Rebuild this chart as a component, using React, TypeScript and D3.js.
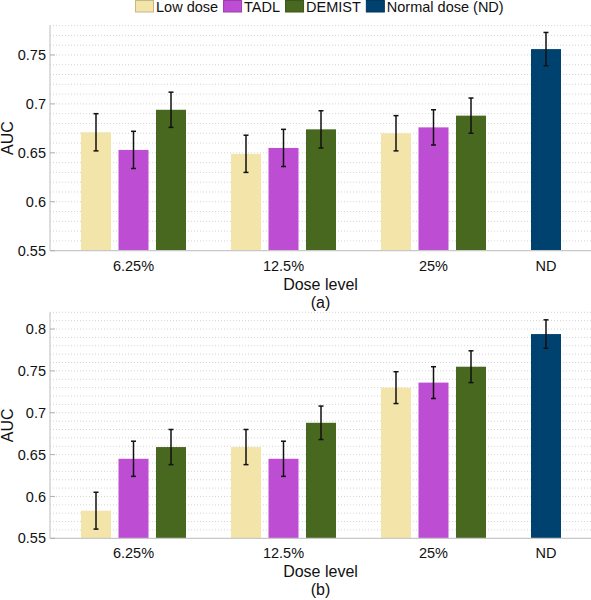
import React from "react";
import * as d3 from "d3";

// ---- data ----
const categories = ["6.25%", "12.5%", "25%"];
const ndCategory = "ND";
const seriesNames = ["Low dose", "TADL", "DEMIST", "Normal dose (ND)"];
const seriesColors = ["#F3E4A9", "#BD4DD3", "#48681F", "#00426F"];

// panel (a)
const lowDoseA = [0.671, 0.649, 0.670];
const tadlA = [0.653, 0.655, 0.676];
const demistA = [0.694, 0.674, 0.688];
const lowDoseErrA = [0.019, 0.019, 0.018];
const tadlErrA = [0.019, 0.019, 0.018];
const demistErrA = [0.018, 0.019, 0.018];
const ndA = 0.756;
const ndErrA = 0.017;
const ticksA = [0.55, 0.6, 0.65, 0.7, 0.75];

// panel (b)
const lowDoseB = [0.583, 0.659, 0.730];
const tadlB = [0.645, 0.645, 0.736];
const demistB = [0.659, 0.688, 0.755];
const lowDoseErrB = [0.022, 0.021, 0.019];
const tadlErrB = [0.021, 0.021, 0.019];
const demistErrB = [0.021, 0.020, 0.019];
const ndB = 0.794;
const ndErrB = 0.017;
const ticksB = [0.55, 0.6, 0.65, 0.7, 0.75, 0.8];

const FONT = "'Liberation Sans', Arial, Helvetica, sans-serif";
const W = 591;
const H = 600;
const LEFT = 50;
const RIGHT = 591;

const x = d3.scaleLinear().domain([0, 3]).range([133.5, 583.5]);
const slot = 0.25;
const barW = x(0.2) - x(0);

type PanelProps = {
  series: number[][];
  errs: number[][];
  nd: number;
  ndErr: number;
  domain: [number, number];
  range: [number, number];
  ticks: number[];
  tickY: number;
  xLabelY: number;
  subLabelY: number;
  subLabel: string;
};

function Panel(p: PanelProps) {
  const y = d3.scaleLinear().domain(p.domain).range(p.range);
  const minor = d3.range(Math.round(p.domain[0] * 100) + 1, Math.round(p.domain[1] * 100) + 1).map((v) => v / 100);
  const bars: { cx: number; v: number; e: number; c: string }[] = [];
  categories.forEach((_, g) => {
    p.series.forEach((s, k) => {
      bars.push({ cx: x(g + (k - 1) * slot), v: s[g], e: p.errs[k][g], c: seriesColors[k] });
    });
  });
  const ndX = x(3 - slot);
  bars.push({ cx: ndX, v: p.nd, e: p.ndErr, c: seriesColors[3] });
  const midY = (p.range[0] + p.range[1]) / 2;
  const midX = (LEFT + RIGHT) / 2;
  return (
    <g>
      {minor.map((m) => (
        <line key={m} x1={LEFT} x2={RIGHT} y1={y(m)} y2={y(m)} stroke="#d4d4d4" strokeWidth={1} strokeDasharray="1,2" />
      ))}
      {bars.map((b, i) => (
        <rect key={i} x={b.cx - barW / 2} y={y(b.v)} width={barW} height={y(p.domain[0]) - y(b.v)} fill={b.c} />
      ))}
      {bars.map((b, i) => (
        <g key={"e" + i} stroke="#111" strokeWidth={1.5}>
          <line x1={b.cx} x2={b.cx} y1={y(b.v + b.e)} y2={y(b.v - b.e)} />
          <line x1={b.cx - 2.5} x2={b.cx + 2.5} y1={y(b.v + b.e)} y2={y(b.v + b.e)} />
          <line x1={b.cx - 2.5} x2={b.cx + 2.5} y1={y(b.v - b.e)} y2={y(b.v - b.e)} />
        </g>
      ))}
      <line x1={LEFT} x2={LEFT} y1={p.range[1]} y2={p.range[0]} stroke="#c8c8c8" strokeWidth={1.2} />
      <line x1={LEFT} x2={RIGHT} y1={p.range[0]} y2={p.range[0]} stroke="#c8c8c8" strokeWidth={1.2} />
      {p.ticks.map((t) => (
        <g key={t}>
          <line x1={LEFT} x2={LEFT + 5} y1={y(t)} y2={y(t)} stroke="#b0b0b0" strokeWidth={1} />
          <text x={46} y={y(t)} dy="0.35em" textAnchor="end" fontSize={14.5} fontFamily={FONT} fill="#111">
            {String(t)}
          </text>
        </g>
      ))}
      {categories.map((c, g) => (
        <text key={c} x={x(g)} y={p.tickY} textAnchor="middle" fontSize={14.5} fontFamily={FONT} fill="#111">
          {c}
        </text>
      ))}
      <text x={ndX} y={p.tickY} textAnchor="middle" fontSize={14.5} fontFamily={FONT} fill="#111">
        {ndCategory}
      </text>
      <text x={midX} y={p.xLabelY} textAnchor="middle" fontSize={16} fontFamily={FONT} fill="#111">
        Dose level
      </text>
      <text x={midX} y={p.subLabelY} textAnchor="middle" fontSize={16} fontFamily={FONT} fill="#111">
        {p.subLabel}
      </text>
      <text transform={`translate(13,${midY}) rotate(-90)`} textAnchor="middle" fontSize={16} fontFamily={FONT} fill="#111">
        AUC
      </text>
    </g>
  );
}

function measure(s: string, size: number): number {
  const cv = document.createElement("canvas");
  const ctx = cv.getContext("2d");
  if (!ctx) return s.length * size * 0.55;
  ctx.font = `${size}px 'Liberation Sans', Arial, sans-serif`;
  return ctx.measureText(s).width;
}

function Legend() {
  let cx = 135;
  const items = seriesNames.map((n, i) => {
    const bx = cx;
    const tw = measure(n, 14.5);
    cx = bx + 19 + 2 + tw + 5;
    return { n, bx, c: seriesColors[i] };
  });
  return (
    <g>
      {items.map((it) => (
        <g key={it.n}>
          <rect x={it.bx + 0.5} y={0.5} width={18} height={11.5} fill={it.c} stroke={d3.color(it.c)!.darker(0.6).toString()} strokeWidth={1} />
          <text x={it.bx + 21} y={12} fontSize={14.5} fontFamily={FONT} fill="#111">
            {it.n}
          </text>
        </g>
      ))}
    </g>
  );
}

export default function App() {
  return (
    <svg width={W} height={H} style={{ position: "absolute", left: 0, top: 0, background: "#fff" }}>
      <rect width={W} height={H} fill="#fff" />
      <Legend />
      <Panel
        series={[lowDoseA, tadlA, demistA]}
        errs={[lowDoseErrA, tadlErrA, demistErrA]}
        nd={ndA}
        ndErr={ndErrA}
        domain={[0.55, 0.78]}
        range={[250.7, 25.6]}
        ticks={ticksA}
        tickY={271}
        xLabelY={290}
        subLabelY={308}
        subLabel="(a)"
      />
      <Panel
        series={[lowDoseB, tadlB, demistB]}
        errs={[lowDoseErrB, tadlErrB, demistErrB]}
        nd={ndB}
        ndErr={ndErrB}
        domain={[0.55, 0.82]}
        range={[538.3, 312.3]}
        ticks={ticksB}
        tickY={557.5}
        xLabelY={577}
        subLabelY={595}
        subLabel="(b)"
      />
    </svg>
  );
}
